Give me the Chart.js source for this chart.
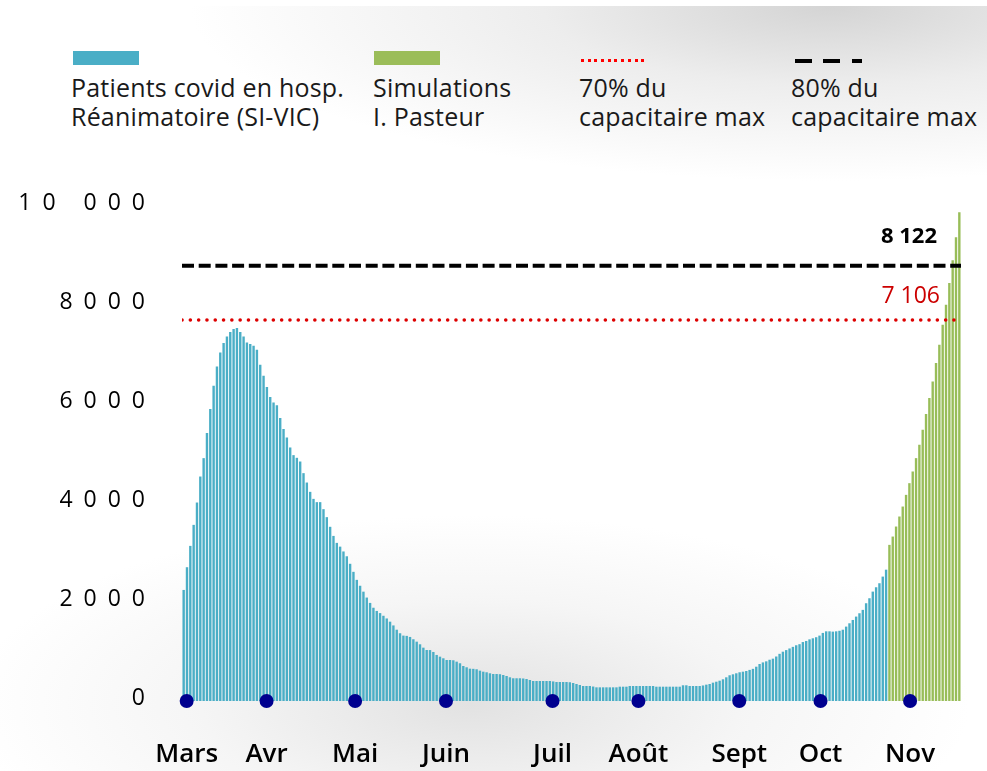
<!DOCTYPE html>
<html><head><meta charset="utf-8">
<script src="https://cdn.jsdelivr.net/npm/chart.js@4.4.1/dist/chart.umd.min.js"></script>
<style>
html,body{margin:0;padding:0;}
body{width:987px;height:771px;position:relative;overflow:hidden;font-family:"Open Sans",sans-serif;
background:
 linear-gradient(to bottom,#fff 0,#fff 6px,rgba(255,255,255,0) 6px),
 radial-gradient(ellipse 640px 175px at 830px 6px, rgba(212,212,212,1) 0%, rgba(225,225,225,0.6) 45%, rgba(255,255,255,0) 100%),
 radial-gradient(ellipse 500px 190px at 470px 705px, rgba(226,226,226,1) 0%, rgba(236,236,236,0.5) 55%, rgba(255,255,255,0) 100%),
 #fff;}
#c{position:absolute;left:0;top:0;}
.sw{position:absolute;}
.lt{position:absolute;font-size:25px;line-height:29px;font-weight:400;color:#1a1a1a;white-space:nowrap;letter-spacing:0.2px;}
</style>
</head>
<body>
<div class="sw" style="left:73px;top:51px;width:66px;height:14px;background:#4aaec6"></div>
<div class="lt" style="left:71px;top:73px">Patients covid en hosp.<br>Réanimatoire (SI-VIC)</div>
<div class="sw" style="left:374px;top:51px;width:66px;height:14px;background:#9bbd59"></div>
<div class="lt" style="left:373px;top:73px">Simulations<br>I. Pasteur</div>
<div class="sw" style="left:581px;top:59px;width:67px;height:3px;background:repeating-linear-gradient(to right,#ff0000 0,#ff0000 3px,rgba(0,0,0,0) 3px,rgba(0,0,0,0) 6.7px)"></div>
<div class="lt" style="left:579px;top:73px">70% du<br>capacitaire max</div>
<div class="sw" style="left:795px;top:59px;width:67px;height:4px;background:linear-gradient(to right,#000 0,#000 17px,rgba(0,0,0,0) 17px,rgba(0,0,0,0) 28px,#000 28px,#000 45px,rgba(0,0,0,0) 45px,rgba(0,0,0,0) 57px,#000 57px,#000 67px)"></div>
<div class="lt" style="left:791px;top:73px">80% du<br>capacitaire max</div>
<canvas id="c" width="987" height="771"></canvas>
<script>
// ICU patients (SI-VIC), one bar per day
const reaPatients = [
 2072,2496,2894,3286,3703,4188,4531,4998,5446,5881,
 6242,6503,6678,6802,6884,6940,6958,6884,6802,6690,
 6660,6628,6553,6273,6068,5857,5670,5570,5520,5278,
 5073,4917,4730,4587,4537,4468,4251,4076,3902,3771,
 3710,3710,3579,3430,3250,3080,2950,2880,2790,2700,
 2560,2410,2260,2150,2040,1930,1830,1740,1680,1640,
 1590,1540,1480,1410,1330,1264,1220,1215,1195,1152,
 1107,1058,995,952,950,915,859,827,797,765,
 765,760,734,704,653,629,603,600,592,566,
 547,536,517,504,504,500,485,467,442,424,
 424,424,420,410,392,373,373,373,373,373,
 373,365,355,355,355,355,350,336,317,299,
 280,280,280,270,255,255,255,255,255,255,
 255,267,267,267,280,280,280,280,280,280,
 280,280,267,267,267,267,267,267,267,267,
 293,293,280,280,280,280,290,305,317,342,
 360,379,405,442,480,498,517,536,547,560,
 580,600,640,690,720,740,770,790,830,880,
 920,950,980,1010,1040,1060,1100,1120,1150,1170,
 1190,1220,1270,1300,1300,1294,1300,1310,1330,1388,
 1450,1512,1575,1637,1700,1824,1917,2041,2122,2197,
 2321,2450
];
// Institut Pasteur simulations
const pasteurSim = [
 2913,3068,3255,3442,3628,3846,4064,4282,4531,4780,
 5060,5353,5651,5962,6305,6647,7020,7394,7799,8221,
 8650,9117
];
const monthLabels = ['Mars','Avr','Mai','Juin','Juil','Août','Sept','Oct','Nov'];
const monthPositions = [0.9,24.9,51.5,78.8,110.8,136.6,166.9,191.3,218.2];
const yTickValues = [0,2000,4000,6000,8000,10000];
const yTickLabels = ['0','2000','4000','6000','8000','10 000'];
const capacityValues = [8122,7106];
const capacityLabels = ['8 122','7 106'];
const capacitySpan = [-0.5,233.5,231.5];

const N = reaPatients.length + pasteurSim.length;
const categories = reaPatients.map((_,i)=>i).concat(pasteurSim.map((_,i)=>reaPatients.length+i));
const blueData = reaPatients.concat(pasteurSim.map(()=>null));
const greenData = reaPatients.map(()=>null).concat(pasteurSim);

const capLabelPlugin = {
  id:'capLabels',
  afterDatasetsDraw(chart){
    const ctx = chart.ctx, y = chart.scales.y, right = chart.chartArea.right;
    ctx.save();
    ctx.textAlign='right'; ctx.textBaseline='middle';
    ctx.font='700 22px "Open Sans"'; ctx.fillStyle='#000';
    ctx.fillText(capacityLabels[0], right-24, y.getPixelForValue(capacityValues[0])-29);
    ctx.font='400 23px "Open Sans"'; ctx.fillStyle='#cc0000';
    ctx.fillText(capacityLabels[1], right-21, y.getPixelForValue(capacityValues[1])-24);
    ctx.restore();
  }
};

new Chart(document.getElementById('c'), {
  type:'bar',
  data:{
    labels: categories,
    datasets:[
      {type:'scatter', data: monthPositions.map(p=>({x:p,y:0})), xAxisID:'xm', yAxisID:'y',
       pointRadius:7, pointHoverRadius:7, pointBackgroundColor:'#00008f', pointBorderWidth:0, clip:false, order:0},
      {type:'line', data:[{x:capacitySpan[0],y:capacityValues[0]},{x:capacitySpan[1],y:capacityValues[0]}],
       xAxisID:'xm', yAxisID:'y', borderColor:'#000', borderWidth:4, borderDash:[12,4.7], pointRadius:0, order:1},
      {type:'line', data:[{x:capacitySpan[0],y:capacityValues[1]},{x:capacitySpan[2],y:capacityValues[1]}],
       xAxisID:'xm', yAxisID:'y', borderColor:'#dd0000', borderWidth:3.5, borderDash:[0.1,8.2], borderCapStyle:'round', pointRadius:0, order:1},
      {label:'Patients covid en hosp. Réanimatoire (SI-VIC)', data: blueData, xAxisID:'x', yAxisID:'y',
       backgroundColor:'#4aaec6', barPercentage:0.72, categoryPercentage:1, grouped:false, order:2},
      {label:'Simulations I. Pasteur', data: greenData, xAxisID:'x', yAxisID:'y',
       backgroundColor:'#98bd58', barPercentage:0.72, categoryPercentage:1, grouped:false, order:3}
    ]
  },
  options:{
    responsive:false, animation:false, devicePixelRatio:1,
    layout:{padding:{left:0,right:26,top:165,bottom:0}},
    plugins:{legend:{display:false}, tooltip:{enabled:false}},
    scales:{
      x:{type:'category', display:false, offset:true},
      xm:{type:'linear', position:'bottom', min:-0.5, max:N-0.5, offset:false,
        grid:{display:false, drawTicks:false}, border:{display:false},
        afterBuildTicks:s=>{ s.ticks = monthPositions.map(v=>({value:v})); },
        afterFit:s=>{ s.height = 70; },
        ticks:{autoSkip:false, maxRotation:0, minRotation:0, padding:38, color:'#000',
          font:{family:'"Open Sans"', size:26, weight:'600'},
          callback:(v,i)=>monthLabels[i]}},
      y:{type:'linear', display:false, min:0, max:10000},
      yl:{type:'linear', position:'left', min:-61, max:10768,
        grid:{display:false, drawTicks:false}, border:{display:false},
        afterBuildTicks:s=>{
          s.ticks = yTickValues.map(v=>({value:v}));
          if(!s._ls){ const orig = s.drawLabels; s.drawLabels = function(a){ const c=this.ctx; const p=c.letterSpacing; c.letterSpacing='11px'; orig.call(this,a); c.letterSpacing=p; }; s._ls=true; }
        },
        afterFit:s=>{ s.width = 182; },
        ticks:{padding:26, color:'#000', font:{family:'"Open Sans"', size:23, weight:'500'},
          callback:(v,i)=>yTickLabels[i]}}
    }
  },
  plugins:[capLabelPlugin]
});
</script>
</body></html>
